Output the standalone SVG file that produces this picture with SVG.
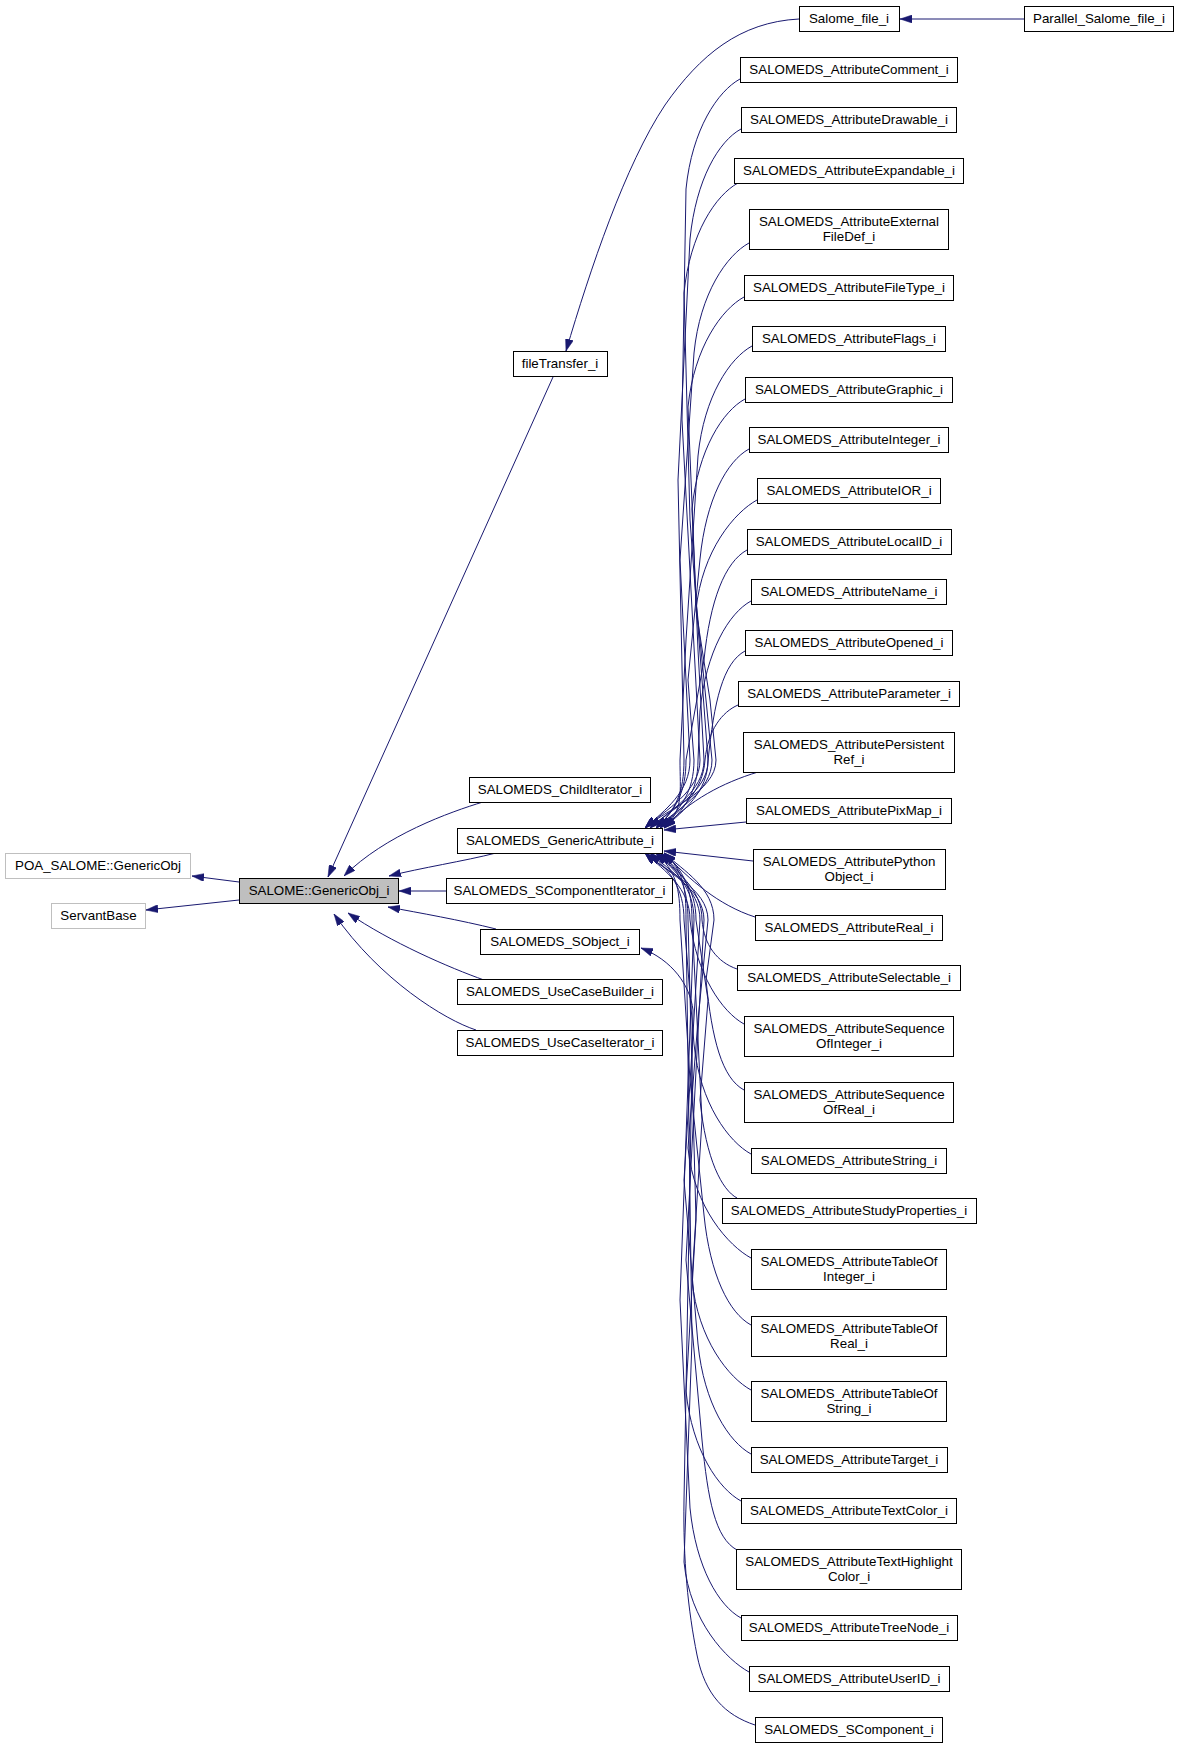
<svg xmlns="http://www.w3.org/2000/svg" width="1179" height="1748" viewBox="0 0 1179 1748">
<style>
.n rect{fill:#fff;stroke:#000;stroke-width:1}
.g rect{fill:#fff;stroke:#bfbfbf;stroke-width:1}
.c rect{fill:#bfbfbf;stroke:#000;stroke-width:1}
text{font-family:"Liberation Sans",Arial,sans-serif;font-size:13.33px;text-anchor:middle;fill:#000}
#edges path{fill:none;stroke:#191970;stroke-width:1;marker-end:url(#a)}
</style>
<defs>
<marker id="a" markerWidth="12" markerHeight="8" refX="12" refY="4" orient="auto" markerUnits="userSpaceOnUse">
<path d="M0,0 L12,4 L0,8 z" fill="#191970" stroke="#191970" stroke-width="0.5"/>
</marker>
</defs>
<rect width="1179" height="1748" fill="#fff"/>
<g id="edges">
<path d="M239,882 L192,876"/>
<path d="M239,900 L146,910"/>
<path d="M553,377 L328,877"/>
<path d="M483,802 C450,812 385,835 344,876"/>
<path d="M496,853 C465,861 420,868 389,876"/>
<path d="M446,891 L399,891"/>
<path d="M496,929 C460,920 420,913 388,907"/>
<path d="M484,980 C450,968 390,942 348,913"/>
<path d="M476,1030 C445,1020 380,980 334,914"/>
<path d="M799,19 C740,22 700,55 665,105 C625,165 590,270 566,351"/>
<path d="M1024,19 L900,19"/>
<path d="M740,79 C718,91 692,129 686,189 L682,420 L700,760 C700,792 665,810 645,828"/>
<path d="M741,129 C719,141 696,179 690,239 L678,480 L684,760 C684,792 676,810 656,828"/>
<path d="M738,183 C716,195 690,233 684,293 L690,520 L708,760 C708,792 684,810 664,828"/>
<path d="M749,243 C727,255 700,293 694,353 L680,560 L690,760 C690,792 665,810 645,828"/>
<path d="M744,297 C722,309 694,347 688,407 L696,600 L712,760 C712,792 676,810 656,828"/>
<path d="M752,346 C730,358 704,396 698,456 L686,640 L680,760 C680,792 684,810 664,828"/>
<path d="M745,399 C723,411 698,449 692,509 L698,650 L704,760 C704,792 670,810 650,828"/>
<path d="M749,449 C727,461 706,499 700,559 L688,680 L694,760 C694,792 680,810 660,828"/>
<path d="M757,500 C735,512 702,550 696,610 L710,700 L716,760 C716,792 665,810 645,828"/>
<path d="M747,550 C725,562 710,600 704,660 L686,760 C686,792 676,810 656,828"/>
<path d="M751,601 C729,613 706,651 700,711 L698,760 C698,792 684,810 664,828"/>
<path d="M745,651 C723,663 714,701 708,761 C708,792 670,810 650,828"/>
<path d="M738,705 C722,712 708,730 705,760 C703,792 680,810 660,828"/>
<path d="M758,772 C722,783 690,800 664,828"/>
<path d="M746,822 L664,830"/>
<path d="M753,861 L664,851"/>
<path d="M755,917 C718,905 690,880 664,853"/>
<path d="M737,969 C717,962 704,945 702,920 C702,888 676,871 656,853"/>
<path d="M744,1024 C722,1012 696,974 690,920 C690,888 665,871 645,853"/>
<path d="M744,1090 C722,1078 712,1040 706,980 L714,920 C714,888 684,871 664,853"/>
<path d="M751,1154 C729,1142 700,1104 694,1044 L684,920 C684,888 670,871 650,853"/>
<path d="M737,1198 C722,1190 706,1160 700,1100 L708,1000 L696,920 C696,888 680,871 660,853"/>
<path d="M751,1258 C729,1246 694,1208 688,1148 L698,1020 L708,920 C708,888 665,871 645,853"/>
<path d="M751,1325 C729,1313 710,1275 704,1215 L690,1080 L680,920 C680,888 676,871 656,853"/>
<path d="M751,1390 C729,1378 698,1340 692,1280 L702,1120 L692,920 C692,888 684,871 664,853"/>
<path d="M751,1454 C729,1442 704,1404 698,1344 L684,1180 L700,920 C700,888 670,871 650,853"/>
<path d="M741,1501 C719,1489 692,1451 686,1391 L696,1220 L688,920 C688,888 680,871 660,853"/>
<path d="M737,1550 C715,1538 708,1500 702,1440 L686,1260 L704,920 C704,888 665,871 645,853"/>
<path d="M741,1618 C719,1606 696,1568 690,1508 L680,1300 L694,920 C694,888 676,871 656,853"/>
<path d="M749,1672 C727,1660 690,1622 684,1562 L692,1340 L686,920 C686,888 684,871 664,853"/>
<path d="M755,1725 C725,1715 705,1695 697,1655 C688,1610 683,1560 684,1500 L693,1010 C690,985 672,960 641,948"/>
</g>
<g id="poa" class="g"><rect x="5.5" y="853.5" width="185" height="25"/><text x="98" y="870">POA_SALOME::GenericObj</text></g>
<g id="servantbase" class="g"><rect x="51.5" y="903.5" width="94" height="25"/><text x="98.5" y="920">ServantBase</text></g>
<g id="genericobj" class="c"><rect x="239.5" y="878.5" width="159" height="25"/><text x="319" y="895">SALOME::GenericObj_i</text></g>
<g id="filetransfer" class="n"><rect x="513.5" y="351.5" width="94" height="25"/><text x="560" y="368">fileTransfer_i</text></g>
<g id="salomefile" class="n"><rect x="799.5" y="6.5" width="100" height="25"/><text x="849" y="23">Salome_file_i</text></g>
<g id="parallel" class="n"><rect x="1024.5" y="6.5" width="149" height="25"/><text x="1099" y="23">Parallel_Salome_file_i</text></g>
<g id="childiterator" class="n"><rect x="469.5" y="777.5" width="181" height="25"/><text x="560" y="794">SALOMEDS_ChildIterator_i</text></g>
<g id="genericattribute" class="n"><rect x="457.5" y="828.5" width="205" height="25"/><text x="560" y="845">SALOMEDS_GenericAttribute_i</text></g>
<g id="scompiterator" class="n"><rect x="446.5" y="878.5" width="226" height="25"/><text x="559.5" y="895">SALOMEDS_SComponentIterator_i</text></g>
<g id="sobject" class="n"><rect x="480.5" y="929.5" width="159" height="25"/><text x="560" y="946">SALOMEDS_SObject_i</text></g>
<g id="usecasebuilder" class="n"><rect x="457.5" y="979.5" width="205" height="25"/><text x="560" y="996">SALOMEDS_UseCaseBuilder_i</text></g>
<g id="usecaseiterator" class="n"><rect x="457.5" y="1030.5" width="205" height="25"/><text x="560" y="1047">SALOMEDS_UseCaseIterator_i</text></g>
<g id="comment" class="n"><rect x="740.5" y="57.5" width="217" height="25"/><text x="849" y="74">SALOMEDS_AttributeComment_i</text></g>
<g id="drawable" class="n"><rect x="741.5" y="107.5" width="215" height="25"/><text x="849" y="124">SALOMEDS_AttributeDrawable_i</text></g>
<g id="expandable" class="n"><rect x="734.5" y="158.5" width="229" height="25"/><text x="849" y="175">SALOMEDS_AttributeExpandable_i</text></g>
<g id="externalfiledef" class="n"><rect x="749.5" y="209.5" width="199" height="40"/><text x="849" y="226">SALOMEDS_AttributeExternal</text><text x="849" y="241">FileDef_i</text></g>
<g id="filetype" class="n"><rect x="744.5" y="275.5" width="209" height="25"/><text x="849" y="292">SALOMEDS_AttributeFileType_i</text></g>
<g id="flags" class="n"><rect x="752.5" y="326.5" width="193" height="25"/><text x="849" y="343">SALOMEDS_AttributeFlags_i</text></g>
<g id="graphic" class="n"><rect x="745.5" y="377.5" width="207" height="25"/><text x="849" y="394">SALOMEDS_AttributeGraphic_i</text></g>
<g id="integer" class="n"><rect x="749.5" y="427.5" width="199" height="25"/><text x="849" y="444">SALOMEDS_AttributeInteger_i</text></g>
<g id="ior" class="n"><rect x="757.5" y="478.5" width="183" height="25"/><text x="849" y="495">SALOMEDS_AttributeIOR_i</text></g>
<g id="localid" class="n"><rect x="747.5" y="529.5" width="204" height="25"/><text x="849" y="546">SALOMEDS_AttributeLocalID_i</text></g>
<g id="name" class="n"><rect x="751.5" y="579.5" width="195" height="25"/><text x="849" y="596">SALOMEDS_AttributeName_i</text></g>
<g id="opened" class="n"><rect x="745.5" y="630.5" width="207" height="25"/><text x="849" y="647">SALOMEDS_AttributeOpened_i</text></g>
<g id="parameter" class="n"><rect x="738.5" y="681.5" width="221" height="25"/><text x="849" y="698">SALOMEDS_AttributeParameter_i</text></g>
<g id="persistentref" class="n"><rect x="743.5" y="732.5" width="211" height="40"/><text x="849" y="749">SALOMEDS_AttributePersistent</text><text x="849" y="764">Ref_i</text></g>
<g id="pixmap" class="n"><rect x="746.5" y="798.5" width="205" height="25"/><text x="849" y="815">SALOMEDS_AttributePixMap_i</text></g>
<g id="pythonobject" class="n"><rect x="753.5" y="849.5" width="192" height="40"/><text x="849" y="866">SALOMEDS_AttributePython</text><text x="849" y="881">Object_i</text></g>
<g id="real" class="n"><rect x="755.5" y="915.5" width="187" height="25"/><text x="849" y="932">SALOMEDS_AttributeReal_i</text></g>
<g id="selectable" class="n"><rect x="737.5" y="965.5" width="223" height="25"/><text x="849" y="982">SALOMEDS_AttributeSelectable_i</text></g>
<g id="seqint" class="n"><rect x="744.5" y="1016.5" width="209" height="40"/><text x="849" y="1033">SALOMEDS_AttributeSequence</text><text x="849" y="1048">OfInteger_i</text></g>
<g id="seqreal" class="n"><rect x="744.5" y="1082.5" width="209" height="40"/><text x="849" y="1099">SALOMEDS_AttributeSequence</text><text x="849" y="1114">OfReal_i</text></g>
<g id="string" class="n"><rect x="751.5" y="1148.5" width="195" height="25"/><text x="849" y="1165">SALOMEDS_AttributeString_i</text></g>
<g id="studyprops" class="n"><rect x="722.5" y="1198.5" width="254" height="25"/><text x="849" y="1215">SALOMEDS_AttributeStudyProperties_i</text></g>
<g id="tableint" class="n"><rect x="751.5" y="1249.5" width="195" height="40"/><text x="849" y="1266">SALOMEDS_AttributeTableOf</text><text x="849" y="1281">Integer_i</text></g>
<g id="tablereal" class="n"><rect x="751.5" y="1316.5" width="195" height="40"/><text x="849" y="1333">SALOMEDS_AttributeTableOf</text><text x="849" y="1348">Real_i</text></g>
<g id="tablestring" class="n"><rect x="751.5" y="1381.5" width="195" height="40"/><text x="849" y="1398">SALOMEDS_AttributeTableOf</text><text x="849" y="1413">String_i</text></g>
<g id="target" class="n"><rect x="751.5" y="1447.5" width="196" height="25"/><text x="849" y="1464">SALOMEDS_AttributeTarget_i</text></g>
<g id="textcolor" class="n"><rect x="741.5" y="1498.5" width="215" height="25"/><text x="849" y="1515">SALOMEDS_AttributeTextColor_i</text></g>
<g id="texthighlight" class="n"><rect x="736.5" y="1549.5" width="225" height="40"/><text x="849" y="1566">SALOMEDS_AttributeTextHighlight</text><text x="849" y="1581">Color_i</text></g>
<g id="treenode" class="n"><rect x="741.5" y="1615.5" width="216" height="25"/><text x="849" y="1632">SALOMEDS_AttributeTreeNode_i</text></g>
<g id="userid" class="n"><rect x="749.5" y="1666.5" width="200" height="25"/><text x="849" y="1683">SALOMEDS_AttributeUserID_i</text></g>
<g id="scomponent" class="n"><rect x="755.5" y="1717.5" width="187" height="25"/><text x="849" y="1734">SALOMEDS_SComponent_i</text></g>
</svg>
